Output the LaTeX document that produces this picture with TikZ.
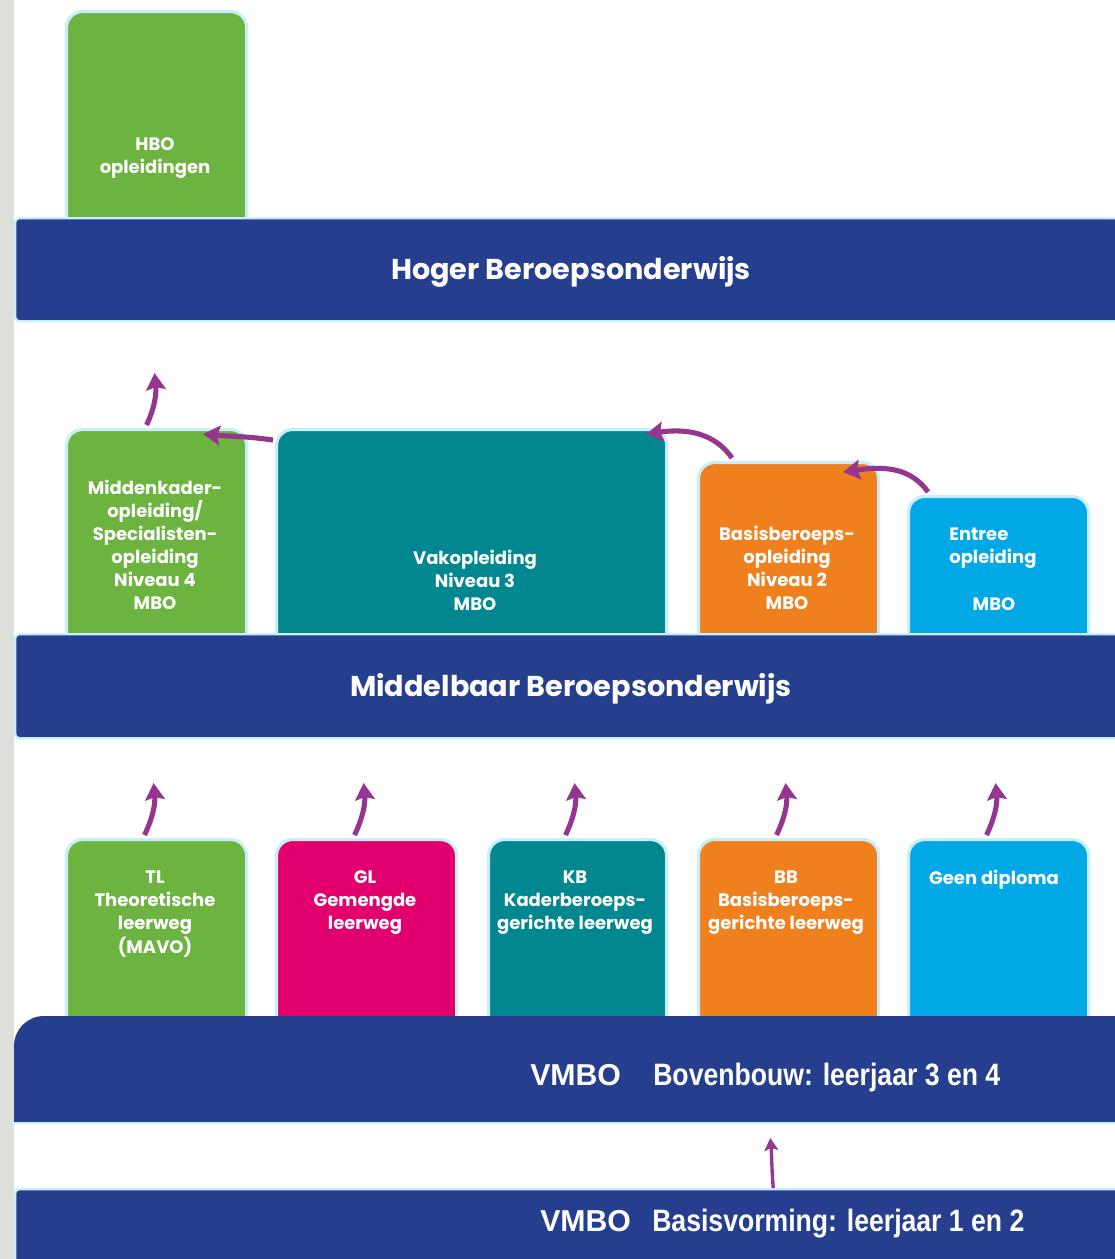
\documentclass[tikz,border=0pt]{standalone}
\usepackage{fontspec}
\newfontfamily\popf{Poppins}
\newfontfamily\arialf{Liberation Sans}
\newfontfamily\arialn{Liberation Sans}[FakeStretch=0.86]
\usetikzlibrary{arrows.meta,calc}
\definecolor{navy}{HTML}{253F8E}
\definecolor{hgreen}{HTML}{6CB33F}
\definecolor{hteal}{HTML}{00878F}
\definecolor{hmag}{HTML}{E2006E}
\definecolor{horng}{HTML}{F07F1E}
\definecolor{hblue}{HTML}{00A8E6}
\definecolor{purp}{HTML}{94368F}
\definecolor{glow}{HTML}{C8EEF9}
\definecolor{leftgray}{HTML}{DDE0DA}
\tikzset{
  box/.style={rectangle, rounded corners=0.4cm, draw=glow, line width=2.2pt, anchor=north west, inner sep=0pt},
  boxtext/.style={text=white, font=\popf\bfseries\fontsize{12.8}{16.4}\selectfont, align=center, inner sep=0pt},
  band/.style={rectangle, fill=navy, draw=glow, line width=1.6pt, rounded corners=3pt, anchor=north west, minimum width=27.9cm, inner sep=0pt},
  bandtext/.style={text=white, font=\popf\bfseries\fontsize{20.4}{22}\selectfont, inner sep=0pt},
  vtext/.style={text=white, font=\arialf\bfseries\fontsize{21.5}{23}\selectfont, anchor=base west, inner sep=0pt},
  vtextn/.style={text=white, font=\arialn\bfseries\fontsize{22}{24}\selectfont, anchor=base west, inner sep=0pt},
  arr/.style={draw=purp, line width=3.6pt, -{Stealth[length=12pt,width=14pt,inset=2pt]}},
  arrs/.style={draw=purp, line width=2.4pt, -{Stealth[length=9pt,width=10pt,inset=2pt]}}
}
\begin{document}
\begin{tikzpicture}[x=0.025cm,y=0.025cm]
\useasboundingbox (0,0) rectangle (1115,-1259);
\clip (0,0) rectangle (1115,-1259);
\fill[white] (0,0) rectangle (1115,-1259);
\fill[leftgray] (0,0) rectangle (14,-1259);

% HBO
\node[box, fill=hgreen, minimum width=4.5cm, minimum height=5.5cm] (hbo) at (65,-10) {};
\node[boxtext] (hbot) at (155,-158) {HBO\\opleidingen};

% MBO row
\node[box, fill=hgreen, minimum width=4.5cm, minimum height=5.5cm] (mk) at (65,-428) {};
\node[box, fill=hteal, minimum width=9.75cm, minimum height=5.5cm] (vak) at (275,-428) {};
\node[box, fill=horng, minimum width=4.5cm, minimum height=4.7cm] (bas) at (697,-461) {};
\node[box, fill=hblue, minimum width=4.5cm, minimum height=3.9cm] (ent) at (907,-495) {};
\node[boxtext] (mkt) at (155,-545) {Middenkader-\\opleiding/\\Specialisten-\\opleiding\\Niveau 4\\MBO};
\node[boxtext] (vakt) at (475,-580) {Vakopleiding\\Niveau 3\\MBO};
\node[boxtext] (bast) at (787,-568) {Basisberoeps-\\opleiding\\Niveau 2\\MBO};
\node[boxtext, align=left, anchor=west] (entt) at (949,-548) {Entree\\opleiding};
\node[boxtext] (entm) at (994,-604) {MBO};

% VMBO row
\node[box, fill=hgreen, minimum width=4.5cm, minimum height=4.8cm] (tl) at (65,-838) {};
\node[box, fill=hmag, minimum width=4.5cm, minimum height=4.8cm] (gl) at (275,-838) {};
\node[box, fill=hteal, minimum width=4.45cm, minimum height=4.8cm] (kb) at (487,-838) {};
\node[box, fill=horng, minimum width=4.5cm, minimum height=4.8cm] (bbx) at (697,-838) {};
\node[box, fill=hblue, minimum width=4.5cm, minimum height=4.8cm] (gd) at (907,-838) {};
\node[boxtext] (tlt) at (155,-914) {TL\\Theoretische\\leerweg\\(MAVO)};
\node[boxtext] (glt) at (365,-903) {GL\\Gemengde\\leerweg};
\node[boxtext] (kbt) at (575,-903) {KB\\Kaderberoeps-\\gerichte leerweg};
\node[boxtext] (bbt) at (786,-903) {BB\\Basisberoeps-\\gerichte leerweg};
\node[boxtext] (gdt) at (994,-880) {Geen diploma};

% bands
\node[band, minimum height=2.575cm] (b1) at (14,-217) {};
\node[bandtext] (b1t) at (571,-272) {Hoger Beroepsonderwijs};
\node[band, minimum height=2.6cm] (b2) at (14,-633) {};
\node[bandtext] (b2t) at (571,-689) {Middelbaar Beroepsonderwijs};
\fill[navy] (14,-1122) -- (14,-1046) arc[start angle=180, end angle=90, radius=0.75cm] -- (1140,-1016) -- (1140,-1122) -- cycle;
\draw[glow, line width=1.6pt] (14,-1123) -- (1115,-1123);
\node[vtext] (v3a) at (530,-1085) {VMBO};
\node[vtextn] (v3b) at (653,-1085) {Bovenbouw: leerjaar 3 en 4};
\node[band, minimum height=2.2cm] (b4) at (14,-1188) {};
\node[vtext] (v4a) at (540,-1231) {VMBO};
\node[vtextn] (v4b) at (652,-1231) {Basisvorming: leerjaar 1 en 2};

% arrows
\foreach \b in {tl,gl,kb,bbx,gd} {
  \draw[arr] ($(\b.north)+(-12,3)$) to[out=65,in=-85] ($(\b.north)+(-3,55)$);
}
\draw[arr] ($(mk.north)+(-10,3)$) to[out=65,in=-85] ($(mk.north)+(-2,55)$);
\draw[arr] ($(vak.north west)+(-2,-12)$) to[out=172,in=-5] ($(mk.north east)+(-45,-6)$);
\draw[arr] ($(bas.north west)+(35,3)$) to[out=125,in=8] ($(vak.north east)+(-22,-6)$);
\draw[arr] ($(ent.north west)+(21,3)$) to[out=125,in=8] ($(bas.north east)+(-37,-11)$);
\draw[arrs] ($(b4.north)+(200,0)$) to[out=95,in=-85] ($(b4.north)+(197,50)$);
\end{tikzpicture}
\end{document}
